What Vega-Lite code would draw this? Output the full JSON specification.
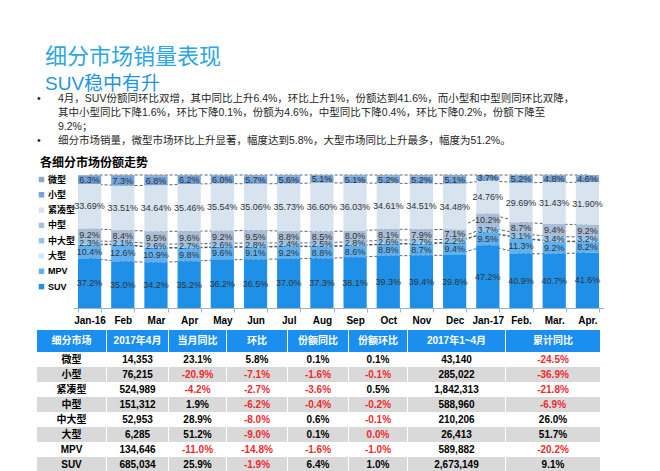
{
  "$schema": "https://vega.github.io/schema/vega-lite/v6.json",
  "padding": {"left": 37, "top": 46, "right": 0, "bottom": 0},
  "background": "#ffffff",
  "config": {
    "font": "Liberation Sans, Noto Sans CJK SC",
    "view": {"stroke": null}
  },
  "datasets": {
    "share": [
      {"m":"Jan-16","seg":"微型","v":0.51},{"m":"Jan-16","seg":"小型","v":6.3},{"m":"Jan-16","seg":"紧凑型","v":33.69},{"m":"Jan-16","seg":"中型","v":9.2},{"m":"Jan-16","seg":"中大型","v":2.3},{"m":"Jan-16","seg":"大型","v":0.4},{"m":"Jan-16","seg":"MPV","v":10.4},{"m":"Jan-16","seg":"SUV","v":37.2},
      {"m":"Feb","seg":"微型","v":0.69},{"m":"Feb","seg":"小型","v":7.3},{"m":"Feb","seg":"紧凑型","v":33.51},{"m":"Feb","seg":"中型","v":8.4},{"m":"Feb","seg":"中大型","v":2.1},{"m":"Feb","seg":"大型","v":0.4},{"m":"Feb","seg":"MPV","v":12.6},{"m":"Feb","seg":"SUV","v":35.0},
      {"m":"Mar","seg":"微型","v":0.96},{"m":"Mar","seg":"小型","v":6.8},{"m":"Mar","seg":"紧凑型","v":34.64},{"m":"Mar","seg":"中型","v":9.5},{"m":"Mar","seg":"中大型","v":2.6},{"m":"Mar","seg":"大型","v":0.4},{"m":"Mar","seg":"MPV","v":10.9},{"m":"Mar","seg":"SUV","v":34.2},
      {"m":"Apr","seg":"微型","v":0.64},{"m":"Apr","seg":"小型","v":6.2},{"m":"Apr","seg":"紧凑型","v":35.46},{"m":"Apr","seg":"中型","v":9.6},{"m":"Apr","seg":"中大型","v":2.7},{"m":"Apr","seg":"大型","v":0.4},{"m":"Apr","seg":"MPV","v":9.8},{"m":"Apr","seg":"SUV","v":35.2},
      {"m":"May","seg":"微型","v":0.46},{"m":"May","seg":"小型","v":6.0},{"m":"May","seg":"紧凑型","v":35.54},{"m":"May","seg":"中型","v":9.2},{"m":"May","seg":"中大型","v":2.6},{"m":"May","seg":"大型","v":0.4},{"m":"May","seg":"MPV","v":9.6},{"m":"May","seg":"SUV","v":36.2},
      {"m":"Jun","seg":"微型","v":0.94},{"m":"Jun","seg":"小型","v":5.7},{"m":"Jun","seg":"紧凑型","v":35.06},{"m":"Jun","seg":"中型","v":9.5},{"m":"Jun","seg":"中大型","v":2.8},{"m":"Jun","seg":"大型","v":0.4},{"m":"Jun","seg":"MPV","v":9.1},{"m":"Jun","seg":"SUV","v":36.5},
      {"m":"Jul","seg":"微型","v":0.87},{"m":"Jul","seg":"小型","v":5.6},{"m":"Jul","seg":"紧凑型","v":35.73},{"m":"Jul","seg":"中型","v":8.8},{"m":"Jul","seg":"中大型","v":2.4},{"m":"Jul","seg":"大型","v":0.4},{"m":"Jul","seg":"MPV","v":9.2},{"m":"Jul","seg":"SUV","v":37.0},
      {"m":"Aug","seg":"微型","v":0.8},{"m":"Aug","seg":"小型","v":5.1},{"m":"Aug","seg":"紧凑型","v":36.6},{"m":"Aug","seg":"中型","v":8.5},{"m":"Aug","seg":"中大型","v":2.5},{"m":"Aug","seg":"大型","v":0.4},{"m":"Aug","seg":"MPV","v":8.8},{"m":"Aug","seg":"SUV","v":37.3},
      {"m":"Sep","seg":"微型","v":0.97},{"m":"Sep","seg":"小型","v":5.1},{"m":"Sep","seg":"紧凑型","v":36.03},{"m":"Sep","seg":"中型","v":8.0},{"m":"Sep","seg":"中大型","v":2.8},{"m":"Sep","seg":"大型","v":0.4},{"m":"Sep","seg":"MPV","v":8.6},{"m":"Sep","seg":"SUV","v":38.1},
      {"m":"Oct","seg":"微型","v":0.99},{"m":"Oct","seg":"小型","v":5.2},{"m":"Oct","seg":"紧凑型","v":34.61},{"m":"Oct","seg":"中型","v":8.1},{"m":"Oct","seg":"中大型","v":2.6},{"m":"Oct","seg":"大型","v":0.4},{"m":"Oct","seg":"MPV","v":8.8},{"m":"Oct","seg":"SUV","v":39.3},
      {"m":"Nov","seg":"微型","v":1.19},{"m":"Nov","seg":"小型","v":5.2},{"m":"Nov","seg":"紧凑型","v":34.51},{"m":"Nov","seg":"中型","v":7.9},{"m":"Nov","seg":"中大型","v":2.7},{"m":"Nov","seg":"大型","v":0.4},{"m":"Nov","seg":"MPV","v":8.7},{"m":"Nov","seg":"SUV","v":39.4},
      {"m":"Dec","seg":"微型","v":1.52},{"m":"Dec","seg":"小型","v":5.1},{"m":"Dec","seg":"紧凑型","v":34.48},{"m":"Dec","seg":"中型","v":7.1},{"m":"Dec","seg":"中大型","v":2.2},{"m":"Dec","seg":"大型","v":0.4},{"m":"Dec","seg":"MPV","v":9.4},{"m":"Dec","seg":"SUV","v":39.8},
      {"m":"Jan-17","seg":"微型","v":0.54},{"m":"Jan-17","seg":"小型","v":3.7},{"m":"Jan-17","seg":"紧凑型","v":24.76},{"m":"Jan-17","seg":"中型","v":10.2},{"m":"Jan-17","seg":"中大型","v":3.7},{"m":"Jan-17","seg":"大型","v":0.4},{"m":"Jan-17","seg":"MPV","v":9.5},{"m":"Jan-17","seg":"SUV","v":47.2},
      {"m":"Feb.","seg":"微型","v":0.71},{"m":"Feb.","seg":"小型","v":5.2},{"m":"Feb.","seg":"紧凑型","v":29.69},{"m":"Feb.","seg":"中型","v":8.7},{"m":"Feb.","seg":"中大型","v":3.1},{"m":"Feb.","seg":"大型","v":0.4},{"m":"Feb.","seg":"MPV","v":11.3},{"m":"Feb.","seg":"SUV","v":40.9},
      {"m":"Mar.","seg":"微型","v":0.67},{"m":"Mar.","seg":"小型","v":4.8},{"m":"Mar.","seg":"紧凑型","v":31.43},{"m":"Mar.","seg":"中型","v":9.4},{"m":"Mar.","seg":"中大型","v":3.4},{"m":"Mar.","seg":"大型","v":0.4},{"m":"Mar.","seg":"MPV","v":9.2},{"m":"Mar.","seg":"SUV","v":40.7},
      {"m":"Apr.","seg":"微型","v":0.92},{"m":"Apr.","seg":"小型","v":4.6},{"m":"Apr.","seg":"紧凑型","v":31.9},{"m":"Apr.","seg":"中型","v":9.2},{"m":"Apr.","seg":"中大型","v":3.2},{"m":"Apr.","seg":"大型","v":0.38},{"m":"Apr.","seg":"MPV","v":8.2},{"m":"Apr.","seg":"SUV","v":41.6}
    ],
    "tbl": [
      {"seg":"微型","m":"14,353","yoy":"23.1%","mom":"5.8%","sy":"0.1%","sm":"0.1%","ytd":"43,140","ytdy":"-24.5%"},
      {"seg":"小型","m":"76,215","yoy":"-20.9%","mom":"-7.1%","sy":"-1.6%","sm":"-0.1%","ytd":"285,022","ytdy":"-36.9%"},
      {"seg":"紧凑型","m":"524,989","yoy":"-4.2%","mom":"-2.7%","sy":"-3.6%","sm":"0.5%","ytd":"1,842,313","ytdy":"-21.8%"},
      {"seg":"中型","m":"151,312","yoy":"1.9%","mom":"-6.2%","sy":"-0.4%","sm":"-0.2%","ytd":"588,960","ytdy":"-6.9%"},
      {"seg":"中大型","m":"52,953","yoy":"28.9%","mom":"-8.0%","sy":"0.6%","sm":"-0.1%","ytd":"210,206","ytdy":"26.0%"},
      {"seg":"大型","m":"6,285","yoy":"51.2%","mom":"-9.0%","sy":"0.1%","sm":"0.0%","ytd":"26,413","ytdy":"51.7%"},
      {"seg":"MPV","m":"134,646","yoy":"-11.0%","mom":"-14.8%","sy":"-1.6%","sm":"-1.0%","ytd":"589,882","ytdy":"-20.2%"},
      {"seg":"SUV","m":"685,034","yoy":"25.9%","mom":"-1.9%","sy":"6.4%","sm":"1.0%","ytd":"2,673,149","ytdy":"9.1%"}
    ]
  },
  "spacing": 9,
  "resolve": {"scale": {"color": "independent"}, "legend": {"color": "independent"}},
  "vconcat": [
    {
      "width": 21,
      "height": 56,
      "title": {"text": "细分市场销量表现", "subtitle": "SUV稳中有升", "anchor": "start", "frame": "bounds", "dx": 8, "fontSize": 22, "fontWeight": "normal", "color": "#2ba6e6", "subtitleFontSize": 19, "subtitleColor": "#1e94e2", "subtitlePadding": 6, "offset": -3, "font": "Noto Sans CJK SC", "subtitleFont": "Liberation Sans, Noto Sans CJK SC"},
      "data": {"values": [
        {"line": 1, "part": "b", "s": "•"},
        {"line": 1, "part": "t", "s": "4月，SUV份额同环比双增，其中同比上升6.4%，环比上升1%，份额达到41.6%，而小型和中型则同环比双降，"},
        {"line": 2, "part": "t", "s": "其中小型同比下降1.6%，环比下降0.1%，份额为4.6%，中型同比下降0.4%，环比下降0.2%，份额下降至"},
        {"line": 3, "part": "t", "s": "9.2%；"},
        {"line": 4, "part": "b", "s": "•"},
        {"line": 4, "part": "t", "s": "细分市场销量，微型市场环比上升显著，幅度达到5.8%，大型市场同比上升最多，幅度为51.2%。"}
      ]},
      "mark": {"type": "text", "align": "left", "baseline": "middle", "fontSize": 10.5, "color": "#262626"},
      "encoding": {
        "x": {"field": "part", "type": "nominal", "axis": null, "scale": {"type": "point", "domain": ["b", "t"], "padding": 0}},
        "y": {"field": "line", "type": "ordinal", "axis": null, "scale": {"type": "band", "paddingInner": 0, "paddingOuter": 0}},
        "text": {"field": "s"}
      }
    },
    {
      "spacing": 5,
      "resolve": {"scale": {"color": "independent"}, "legend": {"color": "independent"}},
      "vconcat": [
        {
          "width": 567,
          "height": 133,
          "title": {"text": "各细分市场份额走势", "anchor": "start", "frame": "bounds", "dx": 3, "fontSize": 12, "fontWeight": "bold", "color": "#000000", "offset": 3, "font": "Noto Sans CJK SC"},
          "data": {"name": "share"},
          "transform": [
            {"calculate": "indexof(['SUV','MPV','大型','中大型','中型','紧凑型','小型','微型'], datum.seg)", "as": "ord"},
            {"stack": "v", "groupby": ["m"], "sort": [{"field": "ord", "order": "ascending"}], "offset": "normalize", "as": ["y0", "y1"]},
            {"calculate": "(datum.y0 + datum.y1) / 2", "as": "ym"}
          ],
          "encoding": {
            "x": {"field": "m", "type": "nominal", "title": null,
              "sort": ["Jan-16","Feb","Mar","Apr","May","Jun","Jul","Aug","Sep","Oct","Nov","Dec","Jan-17","Feb.","Mar.","Apr."],
              "scale": {"range": [36, 567], "paddingInner": 0.3, "paddingOuter": 0.15},
              "axis": {"domainColor": "#9fb3cc", "tickColor": "#9fb3cc", "tickSize": 4, "tickBand": "extent", "labelFontWeight": "bold", "labelFontSize": 10, "labelColor": "#000000", "labelAngle": 0, "labelPadding": 3, "grid": false}}
          },
          "layer": [
            {
              "transform": [{"filter": "datum.seg != '小型'"}],
              "mark": {"type": "line", "strokeDash": [3, 2], "color": "#3a3a3a", "strokeWidth": 0.8},
              "encoding": {
                "y": {"field": "y1", "type": "quantitative", "axis": null, "scale": {"domain": [0, 1], "nice": false}},
                "detail": {"field": "seg"}
              }
            },
            {
              "mark": {"type": "bar"},
              "encoding": {
                "y": {"field": "y0", "type": "quantitative", "stack": null},
                "y2": {"field": "y1"},
                "color": {"field": "seg", "type": "nominal",
                  "scale": {"domain": ["微型","小型","紧凑型","中型","中大型","大型","MPV","SUV"], "range": ["#8eaacb","#72a3da","#d8e3f0","#a9bdd6","#8fc6f2","#d3e5f6","#5eb0f0","#1e90e8"]},
                  "legend": {"orient": "top-left", "title": null, "symbolType": "square", "symbolSize": 30, "labelFontSize": 9, "labelFontWeight": "bold", "labelColor": "#000000", "rowPadding": 5.3, "offset": 0, "padding": 0, "labelOffset": 2, "symbolStrokeWidth": 0, "labelFont": "Liberation Sans, Noto Sans CJK SC"}}
              }
            },
            {
              "transform": [
                {"filter": "datum.seg != '微型' && datum.seg != '大型'"},
                {"calculate": "datum.seg == '紧凑型' ? format(datum.v, '.2f') + '%' : format(datum.v, '.1f') + '%'", "as": "lab"}
              ],
              "mark": {"type": "text", "fontSize": 9, "color": "#333333", "baseline": "middle"},
              "encoding": {
                "y": {"field": "ym", "type": "quantitative"},
                "text": {"field": "lab"}
              }
            }
          ]
        },
        {
          "spacing": 0,
          "vconcat": [
            {
              "spacing": 1,
              "hconcat": [
                {"width": 69, "height": 22, "data": {"values": [{"h": "细分市场"}]}, "layer": [{"mark": {"type": "rect", "color": "#1a8ff0"}, "encoding": {}}, {"mark": {"type": "text", "color": "#ffffff", "fontWeight": "bold", "fontSize": 10}, "encoding": {"text": {"field": "h"}}}]},
                {"width": 61, "height": 22, "data": {"values": [{"h": "2017年4月"}]}, "layer": [{"mark": {"type": "rect", "color": "#1a8ff0"}, "encoding": {}}, {"mark": {"type": "text", "color": "#ffffff", "fontWeight": "bold", "fontSize": 10}, "encoding": {"text": {"field": "h"}}}]},
                {"width": 57, "height": 22, "data": {"values": [{"h": "当月同比"}]}, "layer": [{"mark": {"type": "rect", "color": "#1a8ff0"}, "encoding": {}}, {"mark": {"type": "text", "color": "#ffffff", "fontWeight": "bold", "fontSize": 10}, "encoding": {"text": {"field": "h"}}}]},
                {"width": 60, "height": 22, "data": {"values": [{"h": "环比"}]}, "layer": [{"mark": {"type": "rect", "color": "#1a8ff0"}, "encoding": {}}, {"mark": {"type": "text", "color": "#ffffff", "fontWeight": "bold", "fontSize": 10}, "encoding": {"text": {"field": "h"}}}]},
                {"width": 60, "height": 22, "data": {"values": [{"h": "份额同比"}]}, "layer": [{"mark": {"type": "rect", "color": "#1a8ff0"}, "encoding": {}}, {"mark": {"type": "text", "color": "#ffffff", "fontWeight": "bold", "fontSize": 10}, "encoding": {"text": {"field": "h"}}}]},
                {"width": 58, "height": 22, "data": {"values": [{"h": "份额环比"}]}, "layer": [{"mark": {"type": "rect", "color": "#1a8ff0"}, "encoding": {}}, {"mark": {"type": "text", "color": "#ffffff", "fontWeight": "bold", "fontSize": 10}, "encoding": {"text": {"field": "h"}}}]},
                {"width": 97, "height": 22, "data": {"values": [{"h": "2017年1~4月"}]}, "layer": [{"mark": {"type": "rect", "color": "#1a8ff0"}, "encoding": {}}, {"mark": {"type": "text", "color": "#ffffff", "fontWeight": "bold", "fontSize": 10}, "encoding": {"text": {"field": "h"}}}]},
                {"width": 94, "height": 22, "data": {"values": [{"h": "累计同比"}]}, "layer": [{"mark": {"type": "rect", "color": "#1a8ff0"}, "encoding": {}}, {"mark": {"type": "text", "color": "#ffffff", "fontWeight": "bold", "fontSize": 10}, "encoding": {"text": {"field": "h"}}}]}
              ]
            },
            {
              "spacing": 1,
              "hconcat": [
                {"width": 69, "height": 120, "data": {"name": "tbl"},
                  "encoding": {"y": {"field": "seg", "type": "nominal", "axis": null, "scale": {"domain": ["微型","小型","紧凑型","中型","中大型","大型","MPV","SUV"], "paddingInner": 0, "paddingOuter": 0}}},
                  "layer": [
                    {"mark": {"type": "rect"}, "encoding": {"color": {"condition": {"test": "indexof(['小型','中型','大型','SUV'], datum.seg) >= 0", "value": "#d9d9d9"}, "value": "#ffffff"}}},
                    {"mark": {"type": "text", "fontWeight": "bold", "fontSize": 10, "color": "#000000"}, "encoding": {"text": {"field": "seg"}}}
                  ]},
                {"width": 61, "height": 120, "data": {"name": "tbl"},
                  "encoding": {"y": {"field": "seg", "type": "nominal", "axis": null, "scale": {"domain": ["微型","小型","紧凑型","中型","中大型","大型","MPV","SUV"], "paddingInner": 0, "paddingOuter": 0}}},
                  "layer": [
                    {"mark": {"type": "rect"}, "encoding": {"color": {"condition": {"test": "indexof(['小型','中型','大型','SUV'], datum.seg) >= 0", "value": "#d9d9d9"}, "value": "#ffffff"}}},
                    {"mark": {"type": "text", "fontWeight": "bold", "fontSize": 10, "color": "#000000"}, "encoding": {"text": {"field": "m"}}}
                  ]},
                {"width": 57, "height": 120, "data": {"name": "tbl"},
                  "encoding": {"y": {"field": "seg", "type": "nominal", "axis": null, "scale": {"domain": ["微型","小型","紧凑型","中型","中大型","大型","MPV","SUV"], "paddingInner": 0, "paddingOuter": 0}}},
                  "layer": [
                    {"mark": {"type": "rect"}, "encoding": {"color": {"condition": {"test": "indexof(['小型','中型','大型','SUV'], datum.seg) >= 0", "value": "#d9d9d9"}, "value": "#ffffff"}}},
                    {"mark": {"type": "text", "fontWeight": "bold", "fontSize": 10}, "encoding": {"text": {"field": "yoy"}, "color": {"condition": {"test": "toNumber(replace(datum.yoy, '%', '')) <= 0", "value": "#ee2a2f"}, "value": "#000000"}}}
                  ]},
                {"width": 60, "height": 120, "data": {"name": "tbl"},
                  "encoding": {"y": {"field": "seg", "type": "nominal", "axis": null, "scale": {"domain": ["微型","小型","紧凑型","中型","中大型","大型","MPV","SUV"], "paddingInner": 0, "paddingOuter": 0}}},
                  "layer": [
                    {"mark": {"type": "rect"}, "encoding": {"color": {"condition": {"test": "indexof(['小型','中型','大型','SUV'], datum.seg) >= 0", "value": "#d9d9d9"}, "value": "#ffffff"}}},
                    {"mark": {"type": "text", "fontWeight": "bold", "fontSize": 10}, "encoding": {"text": {"field": "mom"}, "color": {"condition": {"test": "toNumber(replace(datum.mom, '%', '')) <= 0", "value": "#ee2a2f"}, "value": "#000000"}}}
                  ]},
                {"width": 60, "height": 120, "data": {"name": "tbl"},
                  "encoding": {"y": {"field": "seg", "type": "nominal", "axis": null, "scale": {"domain": ["微型","小型","紧凑型","中型","中大型","大型","MPV","SUV"], "paddingInner": 0, "paddingOuter": 0}}},
                  "layer": [
                    {"mark": {"type": "rect"}, "encoding": {"color": {"condition": {"test": "indexof(['小型','中型','大型','SUV'], datum.seg) >= 0", "value": "#d9d9d9"}, "value": "#ffffff"}}},
                    {"mark": {"type": "text", "fontWeight": "bold", "fontSize": 10}, "encoding": {"text": {"field": "sy"}, "color": {"condition": {"test": "toNumber(replace(datum.sy, '%', '')) <= 0", "value": "#ee2a2f"}, "value": "#000000"}}}
                  ]},
                {"width": 58, "height": 120, "data": {"name": "tbl"},
                  "encoding": {"y": {"field": "seg", "type": "nominal", "axis": null, "scale": {"domain": ["微型","小型","紧凑型","中型","中大型","大型","MPV","SUV"], "paddingInner": 0, "paddingOuter": 0}}},
                  "layer": [
                    {"mark": {"type": "rect"}, "encoding": {"color": {"condition": {"test": "indexof(['小型','中型','大型','SUV'], datum.seg) >= 0", "value": "#d9d9d9"}, "value": "#ffffff"}}},
                    {"mark": {"type": "text", "fontWeight": "bold", "fontSize": 10}, "encoding": {"text": {"field": "sm"}, "color": {"condition": {"test": "toNumber(replace(datum.sm, '%', '')) <= 0", "value": "#ee2a2f"}, "value": "#000000"}}}
                  ]},
                {"width": 97, "height": 120, "data": {"name": "tbl"},
                  "encoding": {"y": {"field": "seg", "type": "nominal", "axis": null, "scale": {"domain": ["微型","小型","紧凑型","中型","中大型","大型","MPV","SUV"], "paddingInner": 0, "paddingOuter": 0}}},
                  "layer": [
                    {"mark": {"type": "rect"}, "encoding": {"color": {"condition": {"test": "indexof(['小型','中型','大型','SUV'], datum.seg) >= 0", "value": "#d9d9d9"}, "value": "#ffffff"}}},
                    {"mark": {"type": "text", "fontWeight": "bold", "fontSize": 10, "color": "#000000"}, "encoding": {"text": {"field": "ytd"}}}
                  ]},
                {"width": 94, "height": 120, "data": {"name": "tbl"},
                  "encoding": {"y": {"field": "seg", "type": "nominal", "axis": null, "scale": {"domain": ["微型","小型","紧凑型","中型","中大型","大型","MPV","SUV"], "paddingInner": 0, "paddingOuter": 0}}},
                  "layer": [
                    {"mark": {"type": "rect"}, "encoding": {"color": {"condition": {"test": "indexof(['小型','中型','大型','SUV'], datum.seg) >= 0", "value": "#d9d9d9"}, "value": "#ffffff"}}},
                    {"mark": {"type": "text", "fontWeight": "bold", "fontSize": 10}, "encoding": {"text": {"field": "ytdy"}, "color": {"condition": {"test": "toNumber(replace(datum.ytdy, '%', '')) <= 0", "value": "#ee2a2f"}, "value": "#000000"}}}
                  ]}
              ]
            }
          ]
        }
      ]
    }
  ]
}
